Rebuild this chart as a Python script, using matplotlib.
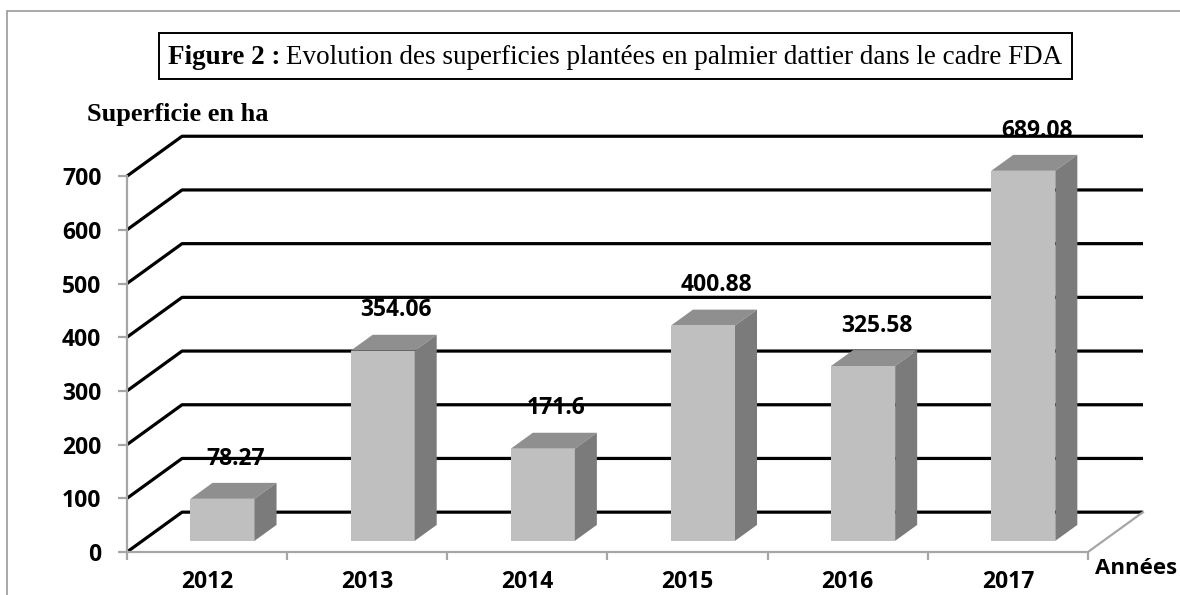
import matplotlib
matplotlib.use('Agg')
import matplotlib.pyplot as plt
from matplotlib.patches import Polygon, Rectangle

# ---- data ----
annees = ['2012', '2013', '2014', '2015', '2016', '2017']
superficie = [78.27, 354.06, 171.6, 400.88, 325.58, 689.08]
etiquettes = ['78.27', '354.06', '171.6', '400.88', '325.58', '689.08']
yticks = [0, 100, 200, 300, 400, 500, 600, 700]

W, H = 1180, 595
fig = plt.figure(figsize=(W / 100, H / 100), dpi=100)
fig.patch.set_facecolor('white')

# fausse profondeur 3D (en unites de donnees)
DX = 55 / 160.0      # decalage horizontal du mur du fond
DY = 74.2            # decalage vertical du mur du fond
F0 = 0.28            # position de la face avant des barres
D = 0.4              # profondeur des barres
BW = 0.4             # largeur des barres

left, right_px, y0_px, top_val = 127, 1143, 552, 780
ppu = 0.537
ax = fig.add_axes([left / W, (H - y0_px) / H, (right_px - left) / W,
                   top_val * ppu / H])
ax.set_xlim(-0.5, 5.5 + DX)
ax.set_ylim(0, top_val)
ax.patch.set_alpha(0)

sans = ['Open Sans', 'DejaVu Sans']
serif = ['Liberation Serif', 'DejaVu Serif']

# lignes de quadrillage (mur gauche + mur du fond)
for v in yticks:
    ax.plot([-0.5, -0.5 + DX, 5.5 + DX], [v, v + DY, v + DY], color='black',
            lw=2.3, zorder=1, solid_capstyle='butt', clip_on=False)
# bord droit du plancher
ax.plot([5.5, 5.5 + DX], [0, DY], color='#a6a6a6', lw=1.6, zorder=1, clip_on=False)

# barres
for i, v in enumerate(superficie):
    c = i + F0 * DX
    yb = F0 * DY
    yt = yb + v
    x0, x1 = c - BW / 2, c + BW / 2
    ax.bar(c, v, width=BW, bottom=yb, color='#bfbfbf', zorder=3, linewidth=0)
    top = Polygon([(x0, yt), (x1, yt), (x1 + D * DX, yt + D * DY), (x0 + D * DX, yt + D * DY)],
                  closed=True, facecolor='#8f8f8f', edgecolor='none', zorder=3)
    side = Polygon([(x1, yb), (x1, yt), (x1 + D * DX, yt + D * DY), (x1 + D * DX, yb + D * DY)],
                   closed=True, facecolor='#7b7b7b', edgecolor='none', zorder=3)
    ax.add_patch(top)
    ax.add_patch(side)
    ax.annotate(etiquettes[i], xy=(i + 0.18, yt), xytext=(0, 29), textcoords='offset points',
                ha='center', va='center', fontsize=16.5, fontweight='bold',
                family=sans, zorder=5)

# axes
for s in ['top', 'right']:
    ax.spines[s].set_visible(False)
for s in ['left', 'bottom']:
    ax.spines[s].set_color('#a6a6a6')
    ax.spines[s].set_linewidth(1.6)
ax.spines['left'].set_bounds(0, 700)
ax.spines['bottom'].set_bounds(-0.5, 5.5)

ax.set_yticks(yticks)
ax.set_yticklabels([str(t) for t in yticks], fontsize=16.5, fontweight='bold', family=sans)
ax.tick_params(axis='y', length=6.5, width=1.6, color='#a6a6a6', pad=12)

ax.set_xticks(range(len(annees)))
ax.set_xticklabels(annees, fontsize=16.5, fontweight='bold', family=sans)
ax.set_xticks([k - 0.5 for k in range(len(annees) + 1)], minor=True)
ax.tick_params(axis='x', which='major', length=0, pad=13)
ax.tick_params(axis='x', which='minor', length=6, width=1.6, color='#a6a6a6')

# textes
fig.text(178 / W, 1 - 115 / H, 'Superficie en ha', ha='center', va='center',
         fontsize=19, fontweight='bold', family=serif)
fig.text(1095 / W, 1 - 569 / H, 'Années', ha='left', va='center',
         fontsize=16, fontweight='bold', family=sans)

# cadre exterieur
fig.add_artist(Rectangle((7 / W, -0.1), 1.2, 1 - 11 / H + 0.1, transform=fig.transFigure,
                         fill=False, edgecolor='#9a9a9a', lw=1.2))

# titre dans un cadre
fig.add_artist(Rectangle((159 / W, 1 - 79 / H), (1072 - 159) / W, 46 / H,
                         transform=fig.transFigure, fill=False, edgecolor='black', lw=1.4))
t1 = fig.text(168 / W, 1 - 57 / H, 'Figure 2 :', ha='left', va='center',
              fontsize=19.5, fontweight='bold', family=serif)
fig.canvas.draw()
bb = t1.get_window_extent()
fig.text((bb.x1 + 6) / W, 1 - 57 / H,
         'Evolution des superficies plantées en palmier dattier dans le cadre FDA',
         ha='left', va='center', fontsize=19.5, family=serif)

fig.savefig('out.png', dpi=100)
